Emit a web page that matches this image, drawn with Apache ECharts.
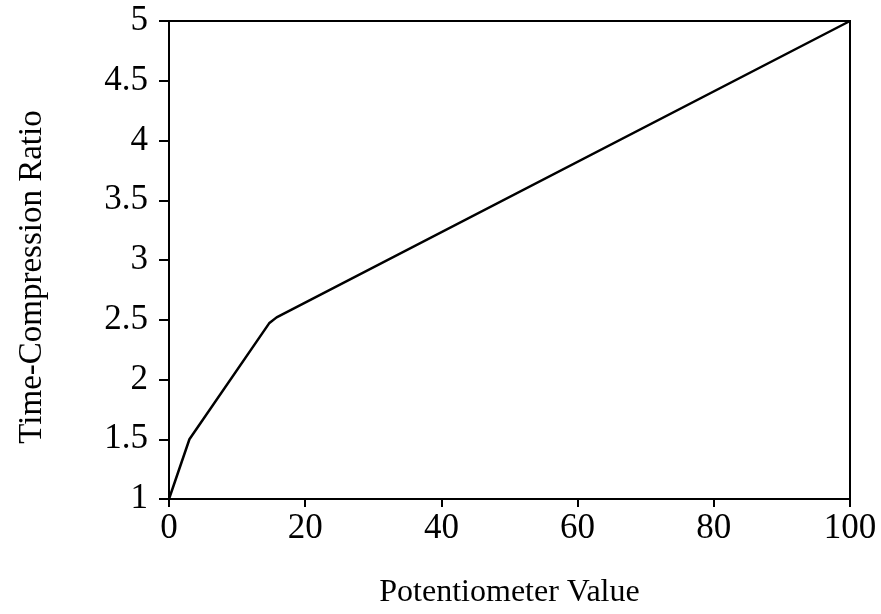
<!DOCTYPE html>
<html>
<head>
<meta charset="utf-8">
<script src="https://cdn.jsdelivr.net/npm/echarts@6/dist/echarts.min.js"></script>
<style>html,body{margin:0;padding:0;background:#fff}#c{width:881px;height:614px}</style>
</head>
<body>
<div id="c"></div>
<script>
const xValues = [0, 3, 14.7, 15.8, 100];
const yValues = [1, 1.5, 2.47, 2.52, 5];
const xTicks = [0, 20, 40, 60, 80, 100];
const yTicks = [1, 1.5, 2, 2.5, 3, 3.5, 4, 4.5, 5];
const xTitle = 'Potentiometer Value';
const yTitle = 'Time-Compression Ratio';

const font = 'Liberation Serif';
const chart = echarts.init(document.getElementById('c'));
chart.setOption({
  animation: false,
  backgroundColor: '#fff',
  grid: { left: 169, right: 31, top: 21, bottom: 113, show: true, borderColor: '#000', borderWidth: 2, backgroundColor: 'transparent' },
  xAxis: {
    type: 'value', min: xTicks[0], max: xTicks[xTicks.length - 1], interval: 20,
    name: xTitle, nameLocation: 'middle', nameGap: 78,
    nameTextStyle: { fontFamily: font, fontSize: 32, color: '#000' },
    axisLine: { show: true, lineStyle: { color: '#000', width: 2 } },
    axisTick: { show: true, inside: false, length: 8, lineStyle: { color: '#000', width: 2 } },
    axisLabel: { fontFamily: font, fontSize: 35, color: '#000', margin: 12 },
    splitLine: { show: false }
  },
  yAxis: {
    type: 'value', min: yTicks[0], max: yTicks[yTicks.length - 1], interval: 0.5,
    name: yTitle, nameLocation: 'middle', nameGap: 120,
    nameTextStyle: { fontFamily: font, fontSize: 33, color: '#000', padding: [0, 34, 0, 0] },
    axisLine: { show: true, lineStyle: { color: '#000', width: 2 } },
    axisTick: { show: true, inside: false, length: 10, lineStyle: { color: '#000', width: 2 } },
    axisLabel: { fontFamily: font, fontSize: 35, color: '#000', margin: 21 },
    splitLine: { show: false }
  },
  series: [{
    type: 'line',
    data: xValues.map((x, i) => [x, yValues[i]]),
    showSymbol: false,
    symbol: 'none',
    lineStyle: { color: '#000', width: 2.5 }
  }]
});
</script>
</body>
</html>
